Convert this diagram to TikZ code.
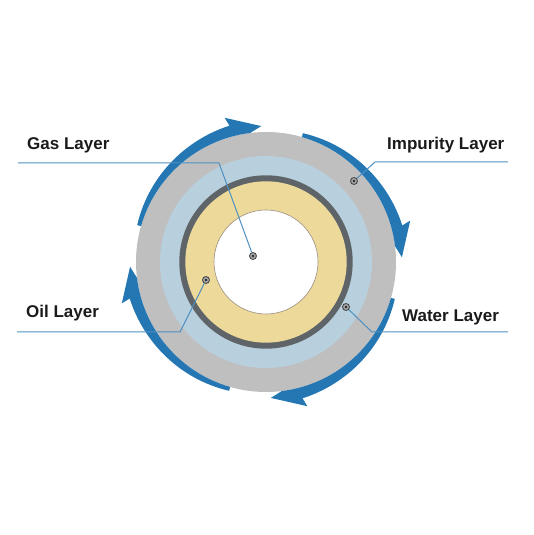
\documentclass[tikz,border=0pt]{standalone}
\usepackage{fontspec}
\setmainfont{Liberation Sans}
\definecolor{arrowblue}{HTML}{2477B3}
\definecolor{outergray}{HTML}{BFBFBF}
\definecolor{paleblue}{HTML}{B8CFDD}
\definecolor{ringgray}{HTML}{5E6467}
\definecolor{oilyellow}{HTML}{EDD99A}
\definecolor{leaderblue}{HTML}{4E90C2}
\definecolor{textblack}{HTML}{1A1A1A}
\definecolor{whiteedge}{HTML}{9A8F80}
\begin{document}
\begin{tikzpicture}[x=1pt,y=1pt,
  lyrtext/.style={anchor=base west, inner sep=0pt, font=\bfseries\fontsize{17}{20}\selectfont, text=textblack},
  leader/.style={draw=leaderblue, line width=1pt},
  dotnode/.style={circle, minimum size=7pt, inner sep=0pt, fill=gray!70, draw=black!75, line width=0.8pt,
    path picture={\fill[black!85] (path picture bounding box.center) circle (1.3pt);}}
]
\useasboundingbox (0,0) rectangle (534,535);
\begin{scope}[shift={(266,273)}]
  \fill[outergray] (0,0) circle (130pt);
  \fill[paleblue] (0,0) circle (106pt);
  \fill[ringgray] (0,0) circle (86.7pt);
  \fill[oilyellow] (0,0) circle (80.7pt);
  \filldraw[fill=white, draw=whiteedge, line width=0.6pt] (0,0) circle (52pt);
  \foreach \p in {0,-90,-180,-270}{
    \pgfmathsetmacro\ta{164+\p}
    \pgfmathsetmacro\tb{106+\p}
    \pgfmathsetmacro\tt{92+\p}
    \pgfmathsetmacro\ti{97+\p}
    \fill[arrowblue] (\ta:130pt) arc[start angle=\ta, end angle=\ti, radius=130pt]
      -- (\tt:136pt) -- (\tb:150pt) -- ({\tb-1}:141pt)
      -- plot[domain=\tb:\ta, samples=40] ({(141-7*(\x-\tb)/(\ta-\tb))*cos(\x)}, {(141-7*(\x-\tb)/(\ta-\tb))*sin(\x)})
      -- cycle;
  }
\end{scope}

\node[dotnode] (gasdot) at (253,279) {};
\node[dotnode] (impdot) at (354,354) {};
\node[dotnode] (oildot) at (206,255) {};
\node[dotnode] (watdot) at (346,228) {};

\coordinate (gascorner) at (219,372); \coordinate (gasend) at (18,372);
\coordinate (impcorner) at (375,373); \coordinate (impend) at (508,373);
\coordinate (oilcorner) at (180,203); \coordinate (oilend) at (17,203);
\coordinate (watcorner) at (372,203); \coordinate (watend) at (508,203);

\draw[leader] (gasend) -- (gascorner) -- (gasdot);
\draw[leader] (impend) -- (impcorner) -- (impdot);
\draw[leader] (oilend) -- (oilcorner) -- (oildot);
\draw[leader] (watend) -- (watcorner) -- (watdot);

\node[lyrtext] (gaslabel) at (27,385) {Gas Layer};
\node[lyrtext] (implabel) at (387,385) {Impurity Layer};
\node[lyrtext] (oillabel) at (26,217) {Oil Layer};
\node[lyrtext] (watlabel) at (402,213) {Water Layer};
\end{tikzpicture}
\end{document}
